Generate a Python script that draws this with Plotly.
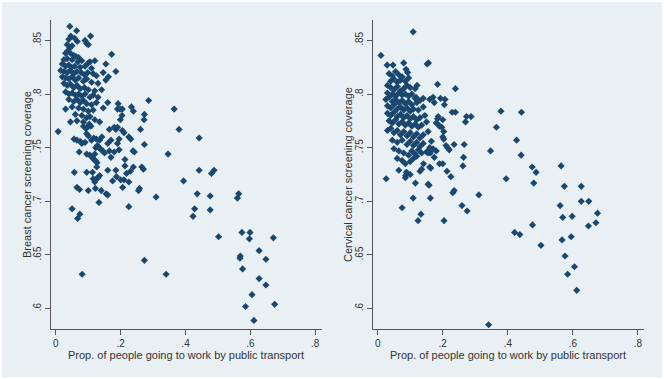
import plotly.graph_objects as go

# ---------------- data ----------------
breast_points = [
    (0.043,0.863),(0.064,0.859),(0.107,0.854),(0.046,0.854),(0.040,0.851),(0.058,0.852),(0.066,0.849),
    (0.090,0.850),(0.095,0.847),(0.100,0.846),(0.035,0.846),(0.043,0.843),(0.050,0.845),(0.036,0.840),
    (0.030,0.838),(0.045,0.838),(0.055,0.836),(0.062,0.835),(0.070,0.834),(0.025,0.832),(0.035,0.833),
    (0.050,0.832),(0.068,0.830),(0.080,0.831),(0.105,0.830),(0.120,0.831),(0.100,0.829),(0.154,0.828),
    (0.172,0.837),(0.020,0.828),(0.030,0.826),(0.040,0.827),(0.048,0.825),(0.058,0.826),(0.075,0.825),
    (0.090,0.826),(0.110,0.824),(0.185,0.821),(0.146,0.820),(0.162,0.816),(0.154,0.813),(0.015,0.822),
    (0.025,0.821),(0.035,0.820),(0.045,0.822),(0.055,0.819),(0.065,0.821),(0.078,0.820),(0.088,0.818),
    (0.098,0.820),(0.115,0.819),(0.125,0.817),(0.020,0.816),(0.030,0.815),(0.040,0.814),(0.050,0.816),
    (0.060,0.813),(0.070,0.815),(0.085,0.812),(0.095,0.814),(0.110,0.811),(0.130,0.810),(0.141,0.804),
    (0.025,0.810),(0.035,0.808),(0.045,0.809),(0.055,0.806),(0.065,0.808),(0.075,0.805),(0.088,0.806),
    (0.100,0.804),(0.120,0.803),(0.030,0.802),(0.040,0.800),(0.050,0.801),(0.060,0.799),(0.070,0.800),
    (0.080,0.798),(0.090,0.800),(0.105,0.797),(0.115,0.799),(0.130,0.797),(0.040,0.795),(0.055,0.793),
    (0.065,0.795),(0.075,0.792),(0.085,0.794),(0.095,0.791),(0.110,0.790),(0.125,0.792),(0.160,0.792),
    (0.192,0.791),(0.286,0.794),(0.233,0.788),(0.198,0.786),(0.146,0.787),(0.030,0.786),(0.050,0.788),
    (0.070,0.787),(0.085,0.786),(0.100,0.784),(0.115,0.785),(0.060,0.781),(0.080,0.780),(0.095,0.778),
    (0.105,0.779),(0.120,0.776),(0.135,0.774),(0.065,0.775),(0.085,0.774),(0.045,0.774),(0.273,0.781),
    (0.205,0.786),(0.190,0.786),(0.204,0.780),(0.199,0.776),(0.239,0.784),(0.272,0.776),(0.365,0.786),
    (0.380,0.767),(0.442,0.759),(0.346,0.744),(0.273,0.753),(0.242,0.746),(0.261,0.767),(0.231,0.758),
    (0.180,0.769),(0.190,0.769),(0.213,0.739),(0.170,0.741),(0.180,0.746),(0.190,0.754),(0.160,0.754),
    (0.239,0.732),(0.270,0.730),(0.230,0.728),(0.218,0.726),(0.187,0.723),(0.210,0.720),(0.200,0.720),
    (0.175,0.719),(0.160,0.729),(0.442,0.729),(0.480,0.726),(0.488,0.729),(0.394,0.719),
    (0.007,0.765),(0.056,0.758),(0.065,0.757),(0.075,0.756),(0.080,0.754),(0.085,0.770),(0.092,0.768),
    (0.098,0.769),(0.103,0.772),(0.108,0.770),(0.095,0.763),(0.100,0.761),(0.090,0.755),(0.110,0.757),
    (0.117,0.759),(0.125,0.758),(0.135,0.757),(0.142,0.760),(0.128,0.752),(0.133,0.750),(0.123,0.750),
    (0.140,0.748),(0.145,0.747),(0.165,0.767),(0.185,0.767),(0.205,0.766),(0.210,0.764),(0.170,0.757),
    (0.195,0.758),(0.225,0.760),(0.072,0.746),(0.095,0.744),(0.105,0.743),(0.112,0.741),(0.117,0.739),
    (0.122,0.738),(0.127,0.736),(0.120,0.744),(0.150,0.745),(0.165,0.747),(0.195,0.748),(0.238,0.747),
    (0.126,0.732),(0.185,0.729),(0.213,0.733),(0.265,0.732),(0.057,0.727),(0.095,0.727),(0.113,0.727),
    (0.115,0.721),(0.125,0.721),(0.130,0.722),(0.135,0.724),(0.120,0.718),(0.225,0.718),(0.065,0.713),
    (0.073,0.711),(0.100,0.710),(0.122,0.712),(0.140,0.710),(0.155,0.707),(0.160,0.706),(0.206,0.713),
    (0.255,0.710),(0.258,0.712),(0.309,0.704),(0.133,0.699),(0.225,0.695),(0.050,0.693),(0.074,0.688),
    (0.067,0.684),(0.081,0.632),
    (0.273,0.645),(0.340,0.632),(0.423,0.686),(0.428,0.693),(0.436,0.707),(0.476,0.705),(0.476,0.692),
    (0.502,0.667),(0.560,0.703),(0.564,0.707),(0.574,0.671),(0.599,0.671),(0.597,0.665),(0.671,0.666),
    (0.569,0.649),(0.568,0.647),(0.627,0.654),(0.648,0.646),(0.576,0.637),(0.627,0.628),(0.648,0.622),
    (0.605,0.613),(0.585,0.602),(0.675,0.604),(0.611,0.589),
]

cervical_points = [
    (0.010,0.836),(0.109,0.858),(0.029,0.827),(0.047,0.827),(0.080,0.829),(0.087,0.823),(0.092,0.820),
    (0.152,0.828),(0.156,0.829),(0.121,0.808),(0.115,0.805),(0.184,0.809),(0.239,0.805),(0.118,0.797),
    (0.140,0.796),(0.160,0.795),(0.170,0.797),(0.193,0.796),(0.207,0.795),(0.205,0.790),(0.174,0.792),
    (0.229,0.783),(0.239,0.783),(0.273,0.779),(0.287,0.779),(0.270,0.774),(0.379,0.784),(0.442,0.783),
    (0.365,0.769),(0.427,0.757),(0.441,0.743),(0.347,0.747),(0.266,0.753),(0.235,0.753),(0.210,0.752),
    (0.215,0.750),(0.220,0.748),(0.186,0.779),(0.184,0.777),(0.180,0.773),(0.188,0.771),(0.200,0.776),
    (0.203,0.765),(0.200,0.760),(0.203,0.758),(0.174,0.741),(0.190,0.735),(0.200,0.735),(0.213,0.728),
    (0.225,0.723),(0.264,0.741),(0.262,0.733),(0.170,0.749),(0.159,0.746),(0.162,0.745),(0.475,0.732),
    (0.487,0.727),(0.564,0.733),(0.395,0.721),(0.480,0.717),(0.574,0.714),(0.626,0.714),(0.026,0.721),
    (0.116,0.717),(0.155,0.716),(0.158,0.715),(0.235,0.710),
    (0.075,0.694),(0.109,0.703),(0.124,0.682),(0.133,0.688),(0.162,0.703),(0.204,0.682),(0.231,0.708),
    (0.259,0.696),(0.275,0.691),(0.311,0.706),(0.341,0.585),(0.421,0.671),(0.437,0.669),(0.476,0.678),
    (0.502,0.659),(0.561,0.696),(0.569,0.685),(0.598,0.686),(0.567,0.664),(0.595,0.667),(0.576,0.649),
    (0.605,0.639),(0.584,0.632),(0.612,0.617),(0.626,0.700),(0.649,0.700),(0.648,0.677),(0.671,0.680),
    (0.676,0.689),
    (0.065,0.729),(0.088,0.727),(0.092,0.726),(0.086,0.724),(0.085,0.722),(0.100,0.725),(0.130,0.728),
    (0.135,0.730),(0.141,0.735),(0.160,0.732),(0.163,0.731),(0.150,0.746),(0.155,0.745),(0.160,0.750),
    (0.158,0.748),(0.180,0.747),(0.190,0.770),(0.197,0.769),
    (0.035,0.819),(0.045,0.817),(0.055,0.821),(0.065,0.818),(0.075,0.816),(0.040,0.812),(0.050,0.814),
    (0.060,0.811),(0.070,0.813),(0.085,0.812),(0.095,0.815),(0.030,0.808),(0.040,0.806),(0.050,0.804),
    (0.060,0.807),(0.070,0.803),(0.080,0.805),(0.090,0.808),(0.100,0.806),(0.030,0.801),(0.045,0.800),
    (0.055,0.798),(0.065,0.801),(0.075,0.799),(0.085,0.800),(0.095,0.798),(0.105,0.800),(0.115,0.796),
    (0.025,0.795),(0.035,0.797),(0.045,0.793),(0.055,0.795),(0.065,0.792),(0.075,0.794),(0.085,0.791),
    (0.095,0.793),(0.105,0.790),(0.120,0.792),(0.130,0.794),(0.030,0.789),(0.040,0.787),(0.050,0.790),
    (0.060,0.786),(0.070,0.788),(0.080,0.785),(0.090,0.787),(0.100,0.784),(0.110,0.786),(0.125,0.785),
    (0.140,0.788),(0.030,0.782),(0.040,0.780),(0.050,0.783),(0.060,0.779),(0.070,0.781),(0.080,0.778),
    (0.090,0.780),(0.100,0.777),(0.110,0.779),(0.120,0.776),(0.130,0.778),(0.145,0.780),(0.035,0.775),
    (0.045,0.773),(0.055,0.776),(0.065,0.772),(0.075,0.774),(0.085,0.771),(0.095,0.773),(0.105,0.770),
    (0.115,0.772),(0.125,0.769),(0.135,0.771),(0.150,0.774),(0.030,0.766),(0.040,0.768),(0.050,0.764),
    (0.060,0.766),(0.070,0.762),(0.080,0.765),(0.090,0.761),(0.100,0.764),(0.110,0.760),(0.120,0.763),
    (0.130,0.759),(0.140,0.762),(0.155,0.765),(0.045,0.757),(0.060,0.755),(0.075,0.757),(0.090,0.753),
    (0.100,0.756),(0.110,0.752),(0.120,0.755),(0.130,0.751),(0.140,0.754),(0.165,0.756),(0.050,0.749),
    (0.065,0.747),(0.080,0.745),(0.095,0.743),(0.105,0.747),(0.115,0.744),(0.125,0.748),(0.135,0.745),
    (0.110,0.740),(0.120,0.742),(0.060,0.740),(0.075,0.738),(0.085,0.735),(0.100,0.737),
]

x_tick_vals = [0, 0.2, 0.4, 0.6, 0.8]
x_tick_text = ["0", ".2", ".4", ".6", ".8"]
y_tick_vals = [0.6, 0.65, 0.7, 0.75, 0.8, 0.85]
y_tick_text = [".6", ".65", ".7", ".75", ".8", ".85"]

x_title = "Prop. of people going to work by public transport"
y_title_left = "Breast cancer screening coverage"
y_title_right = "Cervical cancer screening coverage"

# ---------------- figure ----------------
W, H = 664, 379
MARKER = "#1a476f"
BG = "#e9f0f3"
FONT = "Liberation Sans, Arial, sans-serif"
TXT = "#333333"

bx = [p[0] for p in breast_points]
by = [p[1] for p in breast_points]
cx = [p[0] for p in cervical_points]
cy = [p[1] for p in cervical_points]

fig = go.Figure()
mk = dict(symbol="diamond", size=5.5, color=MARKER, line=dict(width=0))
fig.add_trace(go.Scatter(x=bx, y=by, mode="markers", marker=mk, xaxis="x", yaxis="y", showlegend=False))
fig.add_trace(go.Scatter(x=cx, y=cy, mode="markers", marker=mk, xaxis="x2", yaxis="y2", showlegend=False))

ydom = [1 - 329 / H, 1 - 20 / H]
common_x = dict(tickvals=x_tick_vals, ticktext=x_tick_text, ticks="outside", ticklen=5,
                tickcolor="#555", showline=True, linecolor="#555", linewidth=1, showgrid=False,
                zeroline=False, automargin=False, tickfont=dict(size=10, color=TXT, family=FONT))
common_y = dict(tickvals=y_tick_vals, ticktext=y_tick_text, ticks="outside", ticklen=5,
                tickcolor="#555", showline=True, linecolor="#555", linewidth=1, showgrid=True,
                gridcolor=BG, gridwidth=1, zeroline=False, tickangle=-90, range=[0.581, 0.869],
                automargin=False, tickfont=dict(size=10, color=TXT, family=FONT), domain=ydom)

ann_font = dict(size=11, color=TXT, family=FONT)
fig.update_layout(
    template="none",
    width=W, height=H,
    margin=dict(l=0, r=0, t=0, b=0, pad=0, autoexpand=False),
    paper_bgcolor="white", plot_bgcolor="white",
    font=dict(family=FONT, size=11, color=TXT),
    xaxis=dict(domain=[50.7 / W, 322 / W], range=[-0.016, 0.821], anchor="y", **common_x),
    yaxis=dict(anchor="x", **common_y),
    xaxis2=dict(domain=[372.7 / W, 643.7 / W], range=[-0.0154, 0.818], anchor="y2", **common_x),
    yaxis2=dict(anchor="x2", **common_y),
    shapes=[dict(type="rect", xref="paper", yref="paper", x0=2 / W, x1=(W - 2) / W,
                 y0=2 / H, y1=(H - 2) / H, fillcolor=BG, line=dict(width=0), layer="below")],
    annotations=[
        dict(text=x_title, xref="paper", yref="paper", x=186.4 / W, y=1 - 355 / H,
             xanchor="center", yanchor="middle", showarrow=False, font=ann_font),
        dict(text=x_title, xref="paper", yref="paper", x=508.2 / W, y=1 - 355 / H,
             xanchor="center", yanchor="middle", showarrow=False, font=ann_font),
        dict(text=y_title_left, xref="paper", yref="paper", x=27 / W, y=1 - 175 / H,
             xanchor="center", yanchor="middle", textangle=-90, showarrow=False, font=ann_font),
        dict(text=y_title_right, xref="paper", yref="paper", x=348 / W, y=1 - 175 / H,
             xanchor="center", yanchor="middle", textangle=-90, showarrow=False, font=ann_font),
    ],
)

fig.write_html("out.html", config={"displayModeBar": False},
               post_script="document.body.style.margin='0';document.body.style.overflow='hidden';")
